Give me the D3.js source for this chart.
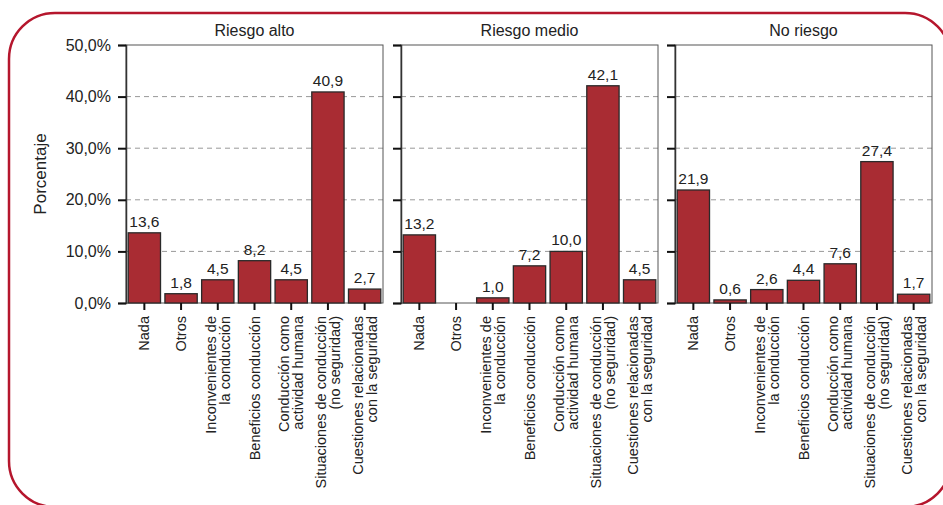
<!DOCTYPE html>
<html>
<head>
<meta charset="utf-8">
<script src="https://cdn.jsdelivr.net/npm/d3@7"></script>
<style>
  body { margin: 0; background: #fff; }
  svg { display: block; font-family: "Liberation Sans", Arial, sans-serif; }
</style>
</head>
<body>
<div id="chart"></div>
<script>
// Three panels of bars: % of answers per category, by risk group

const categories = [
    ["Nada"],
    ["Otros"],
    ["Inconvenientes de", "la conducción"],
    ["Beneficios conducción"],
    ["Conducción como", "actividad humana"],
    ["Situaciones de conducción", "(no seguridad)"],
    ["Cuestiones relacionadas", "con la seguridad"]
];
const panelTitles = ["Riesgo alto", "Riesgo medio", "No riesgo"];
const riesgoAlto = [13.6, 1.8, 4.5, 8.2, 4.5, 40.9, 2.7];
const riesgoMedio = [13.2, null, 1.0, 7.2, 10.0, 42.1, 4.5];
const noRiesgo = [21.9, 0.6, 2.6, 4.4, 7.6, 27.4, 1.7];
const yTicks = [0, 10, 20, 30, 40, 50];

const series = [riesgoAlto, riesgoMedio, noRiesgo];

const width = 943, height = 505;
const plotTop = 45, plotBottom = 303;
const panelLeft = [126, 401, 675];
const panelW = 257;

const svg = d3.select("#chart").append("svg")
    .attr("width", width)
    .attr("height", height);

// red rounded frame
svg.append("rect")
    .attr("x", 9).attr("y", 13)
    .attr("width", 942).attr("height", 494)
    .attr("rx", 46).attr("ry", 46)
    .style("fill", "none")
    .style("stroke", "#b5162d")
    .style("stroke-width", 2.5);

const y = d3.scaleLinear().domain([0, 50]).range([plotBottom, plotTop]);
const fmt = v => d3.format(".1f")(v).replace(".", ",");

// y title
svg.append("text")
    .attr("transform", "translate(46," + (plotTop + plotBottom) / 2 + ") rotate(-90)")
    .attr("text-anchor", "middle")
    .style("font-size", "17px")
    .style("fill", "#222")
    .text("Porcentaje");

series.forEach((vals, p) => {
    let x0 = panelLeft[p];
    let g = svg.append("g").attr("transform", "translate(" + x0 + ",0)");

    let x = d3.scaleBand()
        .domain(d3.range(categories.length))
        .range([0, panelW])
        .paddingInner(0.12)
        .paddingOuter(0.06);

    // gridlines
    g.selectAll(".grid")
        .data(yTicks.filter(t => t > 0 && t < 50))
        .enter().append("line")
        .attr("class", "grid")
        .attr("x1", 0).attr("x2", panelW)
        .attr("y1", d => y(d)).attr("y2", d => y(d))
        .style("stroke", "#999")
        .style("stroke-width", 1)
        .style("stroke-dasharray", "5,4");

    // frame
    g.append("rect")
        .attr("x", 0).attr("y", plotTop)
        .attr("width", panelW).attr("height", plotBottom - plotTop)
        .style("fill", "none")
        .style("stroke", "#555")
        .style("stroke-width", 1);

    // y axis
    let yAxis = d3.axisLeft(y).tickValues(yTicks).tickSize(8).tickPadding(7)
        .tickFormat(p === 0 ? (d => fmt(d) + "%") : "");
    let ya = g.append("g").call(yAxis);
    ya.select(".domain").style("stroke", "#333").style("stroke-width", 1.5);
    ya.selectAll(".tick line").style("stroke", "#111").style("stroke-width", 2);
    ya.selectAll(".tick text")
        .style("font-size", "16px")
        .style("font-family", "'Liberation Sans', Arial, sans-serif")
        .style("fill", "#222");

    // panel title
    g.append("text")
        .attr("x", panelW / 2)
        .attr("y", 36)
        .attr("text-anchor", "middle")
        .style("font-size", "16px")
        .style("fill", "#222")
        .text(panelTitles[p]);

    // bars
    let data = vals.map((v, i) => ({i: i, v: v})).filter(d => d.v !== null);
    g.selectAll(".bar")
        .data(data)
        .enter().append("rect")
        .attr("class", "bar")
        .attr("x", d => x(d.i))
        .attr("y", d => y(d.v))
        .attr("width", x.bandwidth())
        .attr("height", d => plotBottom - y(d.v))
        .style("fill", "#a92c33")
        .style("stroke", "#2a2a2a")
        .style("stroke-width", 1.3);

    // value labels
    g.selectAll(".val")
        .data(data)
        .enter().append("text")
        .attr("class", "val")
        .attr("x", d => x(d.i) + x.bandwidth() / 2)
        .attr("y", d => y(d.v) - 6)
        .attr("text-anchor", "middle")
        .style("font-size", "15.5px")
        .style("fill", "#222")
        .text(d => fmt(d.v));

    // x ticks
    g.selectAll(".xtick")
        .data(categories)
        .enter().append("line")
        .attr("class", "xtick")
        .attr("x1", (d, i) => x(i) + x.bandwidth() / 2)
        .attr("x2", (d, i) => x(i) + x.bandwidth() / 2)
        .attr("y1", plotBottom).attr("y2", plotBottom + 7)
        .style("stroke", "#111")
        .style("stroke-width", 2);

    // x labels, rotated
    let lab = g.selectAll(".xlab")
        .data(categories)
        .enter().append("text")
        .attr("class", "xlab")
        .attr("transform", (d, i) => "translate(" + (x(i) + x.bandwidth() / 2) + "," + (plotBottom + 13) + ") rotate(-90)")
        .attr("text-anchor", "end")
        .style("font-size", "14.5px")
        .style("fill", "#222");
    lab.each(function(lines) {
        let t = d3.select(this);
        lines.forEach((line, k) => {
            t.append("tspan")
                .attr("x", 0)
                .attr("y", (k - (lines.length - 1) / 2) * 14)
                .attr("dy", "0.35em")
                .text(line);
        });
    });
});
</script>
</body>
</html>
